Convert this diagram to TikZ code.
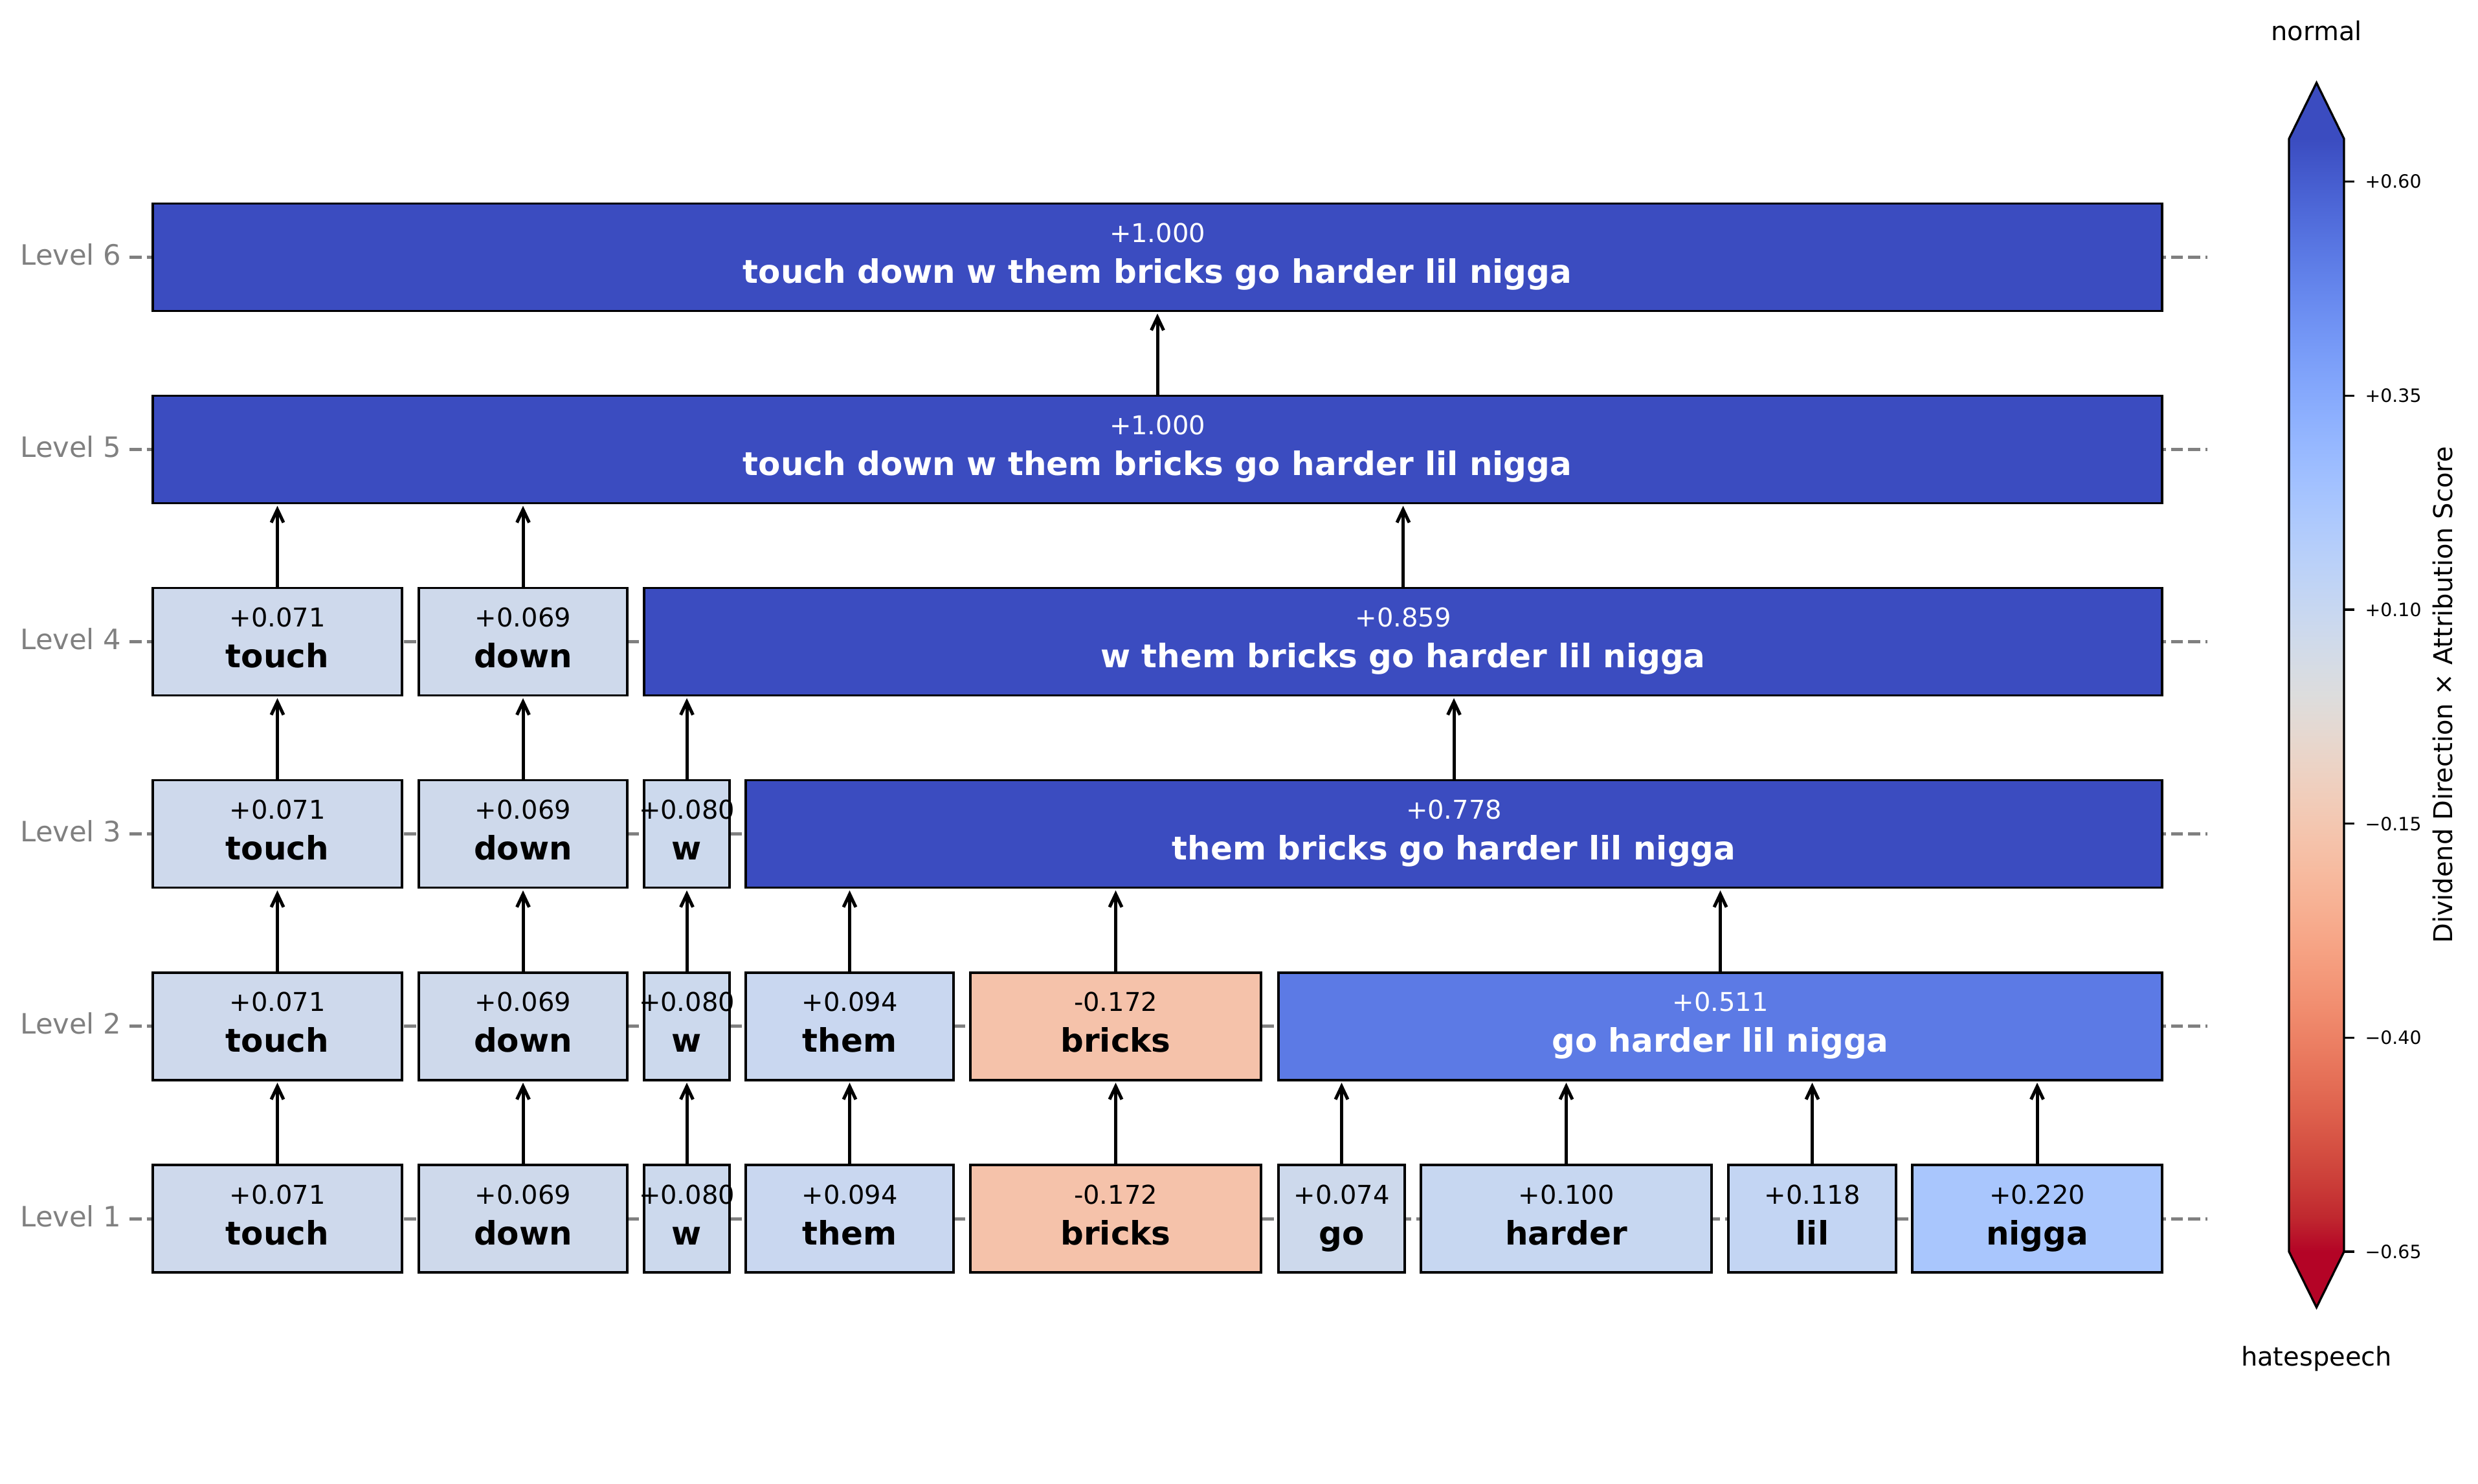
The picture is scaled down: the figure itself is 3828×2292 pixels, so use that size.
\documentclass[tikz,border=0pt]{standalone}
\usepackage{fontspec}
\setmainfont{DejaVu Sans}
\usetikzlibrary{arrows.meta}

\definecolor{c071}{RGB}{206,217,236}
\definecolor{c069}{RGB}{206,217,235}
\definecolor{c080}{RGB}{204,217,237}
\definecolor{c094}{RGB}{201,215,240}
\definecolor{cm172}{RGB}{245,194,170}
\definecolor{c074}{RGB}{205,217,236}
\definecolor{c100}{RGB}{199,215,241}
\definecolor{c118}{RGB}{195,213,243}
\definecolor{c220}{RGB}{169,198,253}
\definecolor{c511}{RGB}{92,122,229}
\definecolor{cmax}{RGB}{59,76,192}
\definecolor{cmin}{RGB}{180,4,38}
\definecolor{lvlgray}{RGB}{128,128,128}

\pgfdeclareverticalshading{cwbar}{100bp}{%
rgb(0bp)=(0.705673158,0.01555616,0.150232812);
rgb(25bp)=(0.705673158,0.01555616,0.150232812);
rgb(26.5625bp)=(0.752534934,0.157246067,0.184115123);
rgb(28.125bp)=(0.795631745,0.24128379,0.220525627);
rgb(29.6875bp)=(0.834620542,0.312874446,0.259301199);
rgb(31.25bp)=(0.869186849,0.378313092,0.300267182);
rgb(32.8125bp)=(0.89904617,0.439559467,0.343229596);
rgb(34.375bp)=(0.923944917,0.49730856,0.387970225);
rgb(35.9375bp)=(0.943660866,0.551750968,0.434243684);
rgb(37.5bp)=(0.958003065,0.602842431,0.481775914);
rgb(39.0625bp)=(0.966811177,0.650421156,0.530263762);
rgb(40.625bp)=(0.969954137,0.694266682,0.579375448);
rgb(42.1875bp)=(0.96732803,0.734132809,0.628751763);
rgb(43.75bp)=(0.958852946,0.769767752,0.678007945);
rgb(45.3125bp)=(0.944468518,0.800927443,0.726736146);
rgb(46.875bp)=(0.924127593,0.827384882,0.774508472);
rgb(48.4375bp)=(0.897787179,0.848937047,0.820880546);
rgb(50bp)=(0.865395197,0.86541021,0.865395561);
rgb(51.5625bp)=(0.833466556,0.860207984,0.901068838);
rgb(53.125bp)=(0.798691636,0.849786142,0.931688648);
rgb(54.6875bp)=(0.761464949,0.834302879,0.956945269);
rgb(56.25bp)=(0.722193294,0.813952739,0.976574709);
rgb(57.8125bp)=(0.681291281,0.788964712,0.990363227);
rgb(59.375bp)=(0.639176211,0.759599947,0.998151185);
rgb(60.9375bp)=(0.596262162,0.726149107,0.999836203);
rgb(62.5bp)=(0.552953156,0.688929332,0.995375608);
rgb(64.0625bp)=(0.509635204,0.648280772,0.98478814);
rgb(65.625bp)=(0.46666708,0.604562568,0.968154911);
rgb(67.1875bp)=(0.424369608,0.558148092,0.945619588);
rgb(68.75bp)=(0.38301334,0.50941904,0.917387822);
rgb(70.3125bp)=(0.342804478,0.458757618,0.883725899);
rgb(71.875bp)=(0.30386891,0.406535296,0.84495867);
rgb(73.4375bp)=(0.26623388,0.353094838,0.801466763);
rgb(75bp)=(0.2298057,0.298717966,0.753683153);
rgb(100bp)=(0.2298057,0.298717966,0.753683153)}

\tikzset{
  tbox/.style={draw=black, line width=1pt, inner sep=0pt, outer sep=0pt,
    minimum height=49.8pt},
  valtxt/.style={anchor=base, inner sep=0pt, font=\fontsize{12pt}{14pt}\selectfont},
  wordtxt/.style={anchor=base, inner sep=0pt, font=\fontsize{15pt}{18pt}\selectfont\bfseries},
  lvl/.style={anchor=base east, inner sep=0pt, text=lvlgray, font=\fontsize{13pt}{16pt}\selectfont},
  gridln/.style={draw=lvlgray, line width=1.5pt, dash pattern=on 5.55pt off 2.4pt},
  arr/.style={draw=black, line width=1.5pt, -{Straight Barb[length=6pt,width=5.7pt]}, shorten >=1.2pt},
  cbtick/.style={anchor=west, inner sep=0pt, font=\fontsize{8.5pt}{10pt}\selectfont},
  cbtxt/.style={inner sep=0pt, font=\fontsize{12pt}{14pt}\selectfont}
}

% name, x1, x2, yc, fill, text colour, value, word
\newcommand\tokbox[8]{%
  \node[tbox, fill=#5, minimum width={(#3-#2)*0.3pt}] (#1) at ({(#2+#3)/2},#4) {};
  \node[valtxt, text=#6] (#1v) at ({(#2+#3)/2},{#4-23}) {#7};
  \node[wordtxt, text=#6] (#1w) at ({(#2+#3)/2},{#4+40}) {#8};
}
\newcommand\uparr[2]{\draw[arr] (#1.north) -- (#1.north |- #2.south);}

\begin{document}
\begin{tikzpicture}[x=0.3pt, y=-0.3pt]
\useasboundingbox (0,0) rectangle (3828,2292);
\fill[white] (0,0) rectangle (3828,2292);

% grid lines and level labels
\foreach \lv/\yc in {1/1883, 2/1585.9, 3/1288.8, 4/991.7, 5/694.6, 6/397.5} {
  \coordinate (gl\lv) at (200,\yc);
  \coordinate (gr\lv) at (3410,\yc);
  \draw[gridln] (gl\lv) -- (gr\lv);
  \node[lvl] (lab\lv) at (188,{\yc+12}) {Level \lv};
}

% Level 1
\tokbox{Aa}{236}{621}{1883}{c071}{black}{+0.071}{touch}
\tokbox{Ab}{647}{969}{1883}{c069}{black}{+0.069}{down}
\tokbox{Ac}{995}{1127}{1883}{c080}{black}{+0.080}{w}
\tokbox{Ad}{1152}{1473}{1883}{c094}{black}{+0.094}{them}
\tokbox{Ae}{1499}{1948}{1883}{cm172}{black}{-0.172}{bricks}
\tokbox{Af}{1975}{2170}{1883}{c074}{black}{+0.074}{go}
\tokbox{Ag}{2195}{2644}{1883}{c100}{black}{+0.100}{harder}
\tokbox{Ah}{2670}{2929}{1883}{c118}{black}{+0.118}{lil}
\tokbox{Ai}{2954}{3340}{1883}{c220}{black}{+0.220}{nigga}

% Level 2
\tokbox{Ba}{236}{621}{1585.9}{c071}{black}{+0.071}{touch}
\tokbox{Bb}{647}{969}{1585.9}{c069}{black}{+0.069}{down}
\tokbox{Bc}{995}{1127}{1585.9}{c080}{black}{+0.080}{w}
\tokbox{Bd}{1152}{1473}{1585.9}{c094}{black}{+0.094}{them}
\tokbox{Be}{1499}{1948}{1585.9}{cm172}{black}{-0.172}{bricks}
\tokbox{Bf}{1975}{3340}{1585.9}{c511}{white}{+0.511}{go harder lil nigga}

% Level 3
\tokbox{Ca}{236}{621}{1288.8}{c071}{black}{+0.071}{touch}
\tokbox{Cb}{647}{969}{1288.8}{c069}{black}{+0.069}{down}
\tokbox{Cc}{995}{1127}{1288.8}{c080}{black}{+0.080}{w}
\tokbox{Cd}{1152}{3340}{1288.8}{cmax}{white}{+0.778}{them bricks go harder lil nigga}

% Level 4
\tokbox{Da}{236}{621}{991.7}{c071}{black}{+0.071}{touch}
\tokbox{Db}{647}{969}{991.7}{c069}{black}{+0.069}{down}
\tokbox{Dc}{995}{3340}{991.7}{cmax}{white}{+0.859}{w them bricks go harder lil nigga}

% Level 5 and 6
\tokbox{Ea}{236}{3340}{694.6}{cmax}{white}{+1.000}{touch down w them bricks go harder lil nigga}
\tokbox{Fa}{236}{3340}{397.5}{cmax}{white}{+1.000}{touch down w them bricks go harder lil nigga}

% arrows
\uparr{Aa}{Ba} \uparr{Ab}{Bb} \uparr{Ac}{Bc} \uparr{Ad}{Bd} \uparr{Ae}{Be}
\uparr{Af}{Bf} \uparr{Ag}{Bf} \uparr{Ah}{Bf} \uparr{Ai}{Bf}
\uparr{Ba}{Ca} \uparr{Bb}{Cb} \uparr{Bc}{Cc} \uparr{Bd}{Cd} \uparr{Be}{Cd} \uparr{Bf}{Cd}
\uparr{Ca}{Da} \uparr{Cb}{Db} \uparr{Cc}{Dc} \uparr{Cd}{Dc}
\uparr{Da}{Ea} \uparr{Db}{Ea} \uparr{Dc}{Ea}
\uparr{Ea}{Fa}

% colour bar
\shade[shading=cwbar] (3536,214.4) rectangle (3621,1934);
\fill[cmax] (3536,214.4) -- (3578.5,128) -- (3621,214.4) -- cycle;
\fill[cmin] (3536,1934) -- (3578.5,2020) -- (3621,1934) -- cycle;
\draw[line width=1pt, line join=miter] (3536,214.4) -- (3578.5,128) -- (3621,214.4)
  -- (3621,1934) -- (3578.5,2020) -- (3536,1934) -- cycle;
\foreach \i/\v/\lab in {1/0.60/+0.60, 2/0.35/+0.35, 3/0.10/+0.10, 4/-0.15/−0.15, 5/-0.40/−0.40, 6/-0.65/−0.65} {
  \coordinate (tk\i) at (3621,{942-(\v-0.10)*1322.8});
  \coordinate (tke\i) at (3637,{942-(\v-0.10)*1322.8});
  \draw[line width=1pt] (tk\i) -- (tke\i);
  \node[cbtick] (tl\i) at (3653,{942-(\v-0.10)*1322.8}) {\lab};
}
\node[cbtxt, anchor=base] (cbnormal) at (3578.5,62) {normal};
\node[cbtxt, anchor=base] (cbhate) at (3578.5,2110) {hatespeech};
\node[cbtxt, anchor=base, rotate=90] (cblabel) at (3788,1074) {Dividend Direction × Attribution Score};
\end{tikzpicture}
\end{document}
